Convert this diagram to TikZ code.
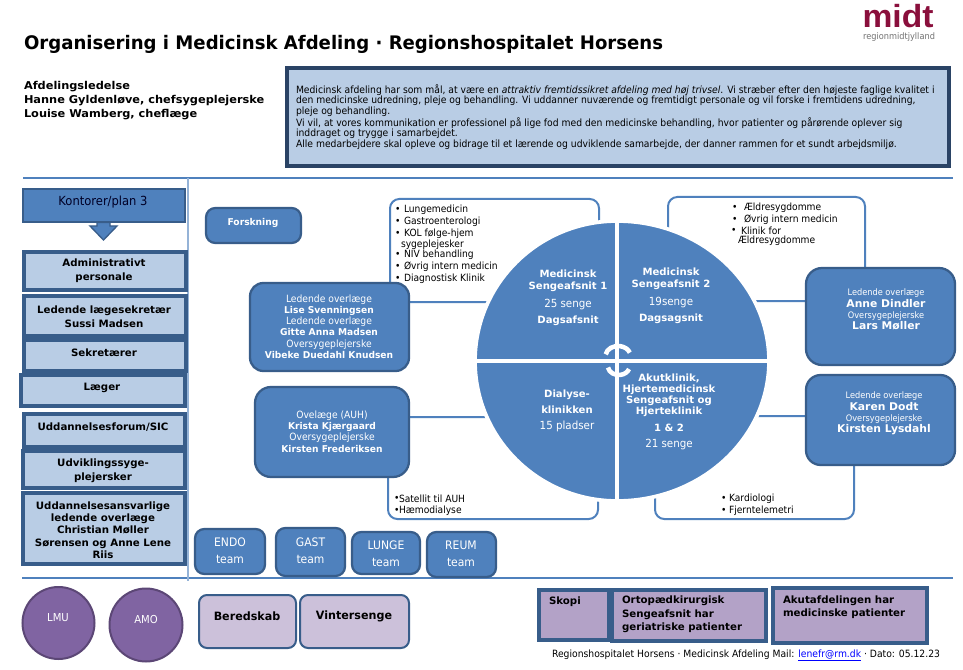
\documentclass[tikz,border=0pt]{standalone}
\usepackage{fontspec}
\setmainfont{DejaVu Sans}
\newfontfamily\rg{DejaVu Sans}[FakeStretch=0.92]
\newfontfamily\bd{DejaVu Sans}[UprightFont={* Bold},FakeStretch=0.97]
\newfontfamily\bdb{DejaVu Sans}[UprightFont={* Bold},FakeStretch=1.01]
\newfontfamily\bdw{DejaVu Sans}[UprightFont={* Bold},FakeStretch=1.05]
\newfontfamily\lgf{Liberation Sans}[UprightFont={* Bold}]
\usetikzlibrary{shapes.arrows,calc}
\definecolor{blu}{HTML}{4F81BD}
\definecolor{blb}{HTML}{385D8A}
\definecolor{lbl}{HTML}{B9CDE5}
\definecolor{navy}{HTML}{2A4365}
\definecolor{pur}{HTML}{8064A2}
\definecolor{purb}{HTML}{5C4776}
\definecolor{lpu}{HTML}{CCC1DA}
\definecolor{mpu}{HTML}{B3A2C7}
\definecolor{logo}{HTML}{8A0F3C}
\tikzset{
  x=0.75pt,y=-0.75pt,
  every node/.style={inner sep=0pt,outer sep=0pt,font=\rg\fontsize{7.6}{8.4}\selectfont,text=black},
  sq/.style={draw=blb,line width=2.6pt,fill=lbl},
  sqp/.style={draw=blb,line width=2.6pt,fill=mpu},
  rnd/.style={draw=blb,line width=1.7pt,fill=blu,rounded corners=7pt},
  rndp/.style={draw=blb,line width=1.5pt,fill=lpu,rounded corners=6pt},
  list/.style={draw=blu,line width=1.5pt,fill=white,rounded corners=7pt},
  quad/.style={fill=blu,draw=white,line width=2.8pt},
  wt/.style={text=white,align=center,font=\rg\fontsize{7.6}{8.4}\selectfont},
  wb/.style={text=white,align=center,font=\bd\fontsize{7.05}{8.4}\selectfont},
  wbl/.style={text=white,align=center,font=\bdb\fontsize{8}{8.4}\selectfont},
  wq/.style={text=white,align=center,font=\bdb\fontsize{7.5}{8.4}\selectfont},
  bt/.style={text=black,align=center,font=\bdb\fontsize{7.6}{8.4}\selectfont},
  bh/.style={anchor=west,text=black,align=left,font=\bdw\fontsize{8.1}{9}\selectfont},
  tm/.style={text=white,align=center,font=\rg\fontsize{8.8}{10}\selectfont},
  li/.style={anchor=west,text=black,font=\rg\fontsize{7.45}{8.4}\selectfont},
  ms/.style={anchor=west,text=black,font=\rg\fontsize{7.52}{8}\selectfont},
  rule/.style={draw=blu,line width=0.8pt},
  circ/.style={circle,draw=purb,line width=1.5pt,fill=pur},
}
% \bx{name}{style}{x1}{y1}{x2}{y2}
\newcommand{\bx}[6]{\node[#2,minimum width={(#5-#3)*0.75pt},minimum height={(#6-#4)*0.75pt}] (#1) at ({(#3+#5)/2},{(#4+#6)/2}) {};}
\newcommand{\pn}{\rg\fontsize{8.4}{8.4}\selectfont}
\newcommand{\sm}{\rg\fontsize{6.7}{8.4}\selectfont}
\newcommand{\rgm}{\rg\fontsize{7.5}{8.4}\selectfont}
\begin{document}
\begin{tikzpicture}
\useasboundingbox (0,0) rectangle (963,670);
\fill[white] (0,0) rectangle (963,670);
% title
\node[anchor=west,font=\bd\fontsize{14}{15}\selectfont] (title) at (24,44) {Organisering i Medicinsk Afdeling · Regionshospitalet Horsens};
% logo
\node[anchor=center,font=\lgf\fontsize{24}{24}\selectfont,text=logo,xscale=1.05] (logomidt) at (898,16) {midt};
\node[anchor=center,font=\rg\fontsize{6.7}{7}\selectfont,text=black!55] (logosub) at (899,37) {regionmidtjylland};
% leaders
\node[bh] (led1) at (24,87) {Afdelingsledelse};
\node[bh] (led2) at (24,101) {Hanne Gyldenløve, chefsygeplejerske};
\node[bh] (led3) at (24,115) {Louise Wamberg, cheflæge};
% mission
\bx{mission}{draw=navy,line width=2.4pt,fill=lbl}{287}{68}{949}{166}
\node[ms] (m1) at (296,90) {Medicinsk afdeling har som mål, at være en \textit{attraktiv fremtidssikret afdeling med høj trivsel}. Vi stræber efter den højeste faglige kvalitet i};
\node[ms] (m2) at (296,100.5) {den medicinske udredning, pleje og behandling. Vi uddanner nuværende og fremtidigt personale og vil forske i fremtidens udredning,};
\node[ms] (m3) at (296,112) {pleje og behandling.};
\node[ms] (m4) at (296,123) {Vi vil, at vores kommunikation er professionel på lige fod med den medicinske behandling, hvor patienter og pårørende oplever sig};
\node[ms] (m5) at (296,133.5) {inddraget og trygge i samarbejdet.};
\node[ms] (m6) at (296,145) {Alle medarbejdere skal opleve og bidrage til et lærende og udviklende samarbejde, der danner rammen for et sundt arbejdsmiljø.};
% rules
\coordinate (r1a) at (23,178); \coordinate (r1b) at (953,178);
\coordinate (r2a) at (22,578); \coordinate (r2b) at (953,578);
\coordinate (r3a) at (188,178); \coordinate (r3b) at (188,581);
\draw[rule] (r1a) -- (r1b);
\draw[rule] (r2a) -- (r2b);
\draw[rule,draw=blu!60] (r3a) -- (r3b);
% left column
\bx{kont}{draw=blb,line width=1.5pt,fill=blu}{23}{189}{185}{222}
\node[font=\rg\fontsize{9.4}{10}\selectfont,text=black!85!blue] (konttxt) at (103,202) {Kontorer/plan 3};
\path[draw=blb,line width=1pt,fill=blu] (97,222.5) -- (110,222.5) -- (110,226) -- (117,226) -- (103.5,240) -- (90,226) -- (97,226) -- cycle;
\bx{b1}{sq}{24}{252}{186}{290}
\node[bt] (b1t) at (104,270.5) {Administrativt\\[1.8pt]personale};
\bx{b2}{sq}{24}{296}{186}{336}
\node[bt] (b2t) at (104,317) {Ledende lægesekretær\\[1.8pt]Sussi Madsen};
\bx{b3}{sq}{24}{340}{186}{371}
\node[bt] (b3t) at (104,353) {Sekretærer};
\bx{b4}{sq}{21}{375}{185}{406}
\node[bt] (b4t) at (102,388) {Læger};
\bx{b5}{sq}{24}{414}{185}{447}
\node[bt] (b5t) at (103,427.5) {Uddannelsesforum/SIC};
\bx{b6}{sq}{23}{451}{185}{488}
\node[bt] (b6t) at (103,470.5) {Udviklingssyge-\\[1.8pt]plejersker};
\bx{b7}{sq}{23}{493}{185}{564}
\node[bt] (b7t) at (103,530) {Uddannelsesansvarlige\\[0.8pt]ledende overlæge\\[0.8pt]Christian Møller\\[0.8pt]Sørensen og Anne Lene\\[0.8pt]Riis};
% lists (behind everything)
\bx{tl}{list}{390}{199}{599}{302}
\bx{tr}{list}{668}{197}{865}{301}
\bx{bl}{list}{388}{417}{598}{519}
\bx{br}{list}{655}{416}{854}{519}
% pie
\coordinate (pc) at (617,361);
\path[quad] (pc) -- (617,221) arc[start angle=90,end angle=180,x radius=106.5pt,y radius=105pt] -- cycle;
\path[quad] (pc) -- (617,221) arc[start angle=90,end angle=0,x radius=114pt,y radius=105pt] -- cycle;
\path[quad] (pc) -- (475,361) arc[start angle=180,end angle=270,x radius=106.5pt,y radius=105pt] -- cycle;
\path[quad] (pc) -- (769,361) arc[start angle=0,end angle=-90,x radius=114pt,y radius=105pt] -- cycle;
% central arrows
\draw[white,line width=3.4pt] (605.7,354.3) arc[start angle=170,end angle=20,x radius=9.4pt,y radius=7.5pt];
\draw[white,line width=3.4pt] (608,367.5) arc[start angle=190,end angle=340,x radius=8.2pt,y radius=6.8pt];
\node[wq] (q1) at (568,298) {Medicinsk\\[0.6pt]Sengeafsnit 1\\[5pt]{\pn 25 senge}\\[4pt]Dagsafsnit};
\node[wq] (q2) at (671,296) {Medicinsk\\[0.6pt]Sengeafsnit 2\\[5pt]{\pn 19senge}\\[4pt]Dagsagsnit};
\node[wq] (q3) at (567,411) {Dialyse-\\[3.2pt]klinikken\\[4pt]{\pn 15 pladser}};
\node[wq] (q4) at (669,412) {Akutklinik,\\Hjertemedicinsk\\Sengeafsnit og\\Hjerteklinik\\[4pt]1 \& 2\\[4pt]{\pn 21 senge}};
% list texts
\foreach \n/\y/\t in {a/210/Lungemedicin,b/222/Gastroenterologi,c/234/KOL følge-hjem,d/255/NIV behandling,e/267/Øvrig intern medicin,f/279/Diagnostisk Klinik}{
  \node[li] (tl\n) at (404,\y) {\t};
  \node[li] (tlb\n) at (395,\y) {•};
}
\node[li] (tlg) at (401,244.5) {sygeplejesker};
\foreach \n/\y/\t in {a/208/Ældresygdomme,b/220/Øvrig intern medicin}{
  \node[li] (tr\n) at (744,\y) {\t};
  \node[li] (trb\n) at (732,\y) {•};
}
\node[li] (trb) at (731,231) {•};
\node[li] (trc) at (741,231) {Klinik for};
\node[li] (trd) at (738,241) {Ældresygdomme};
\node[li] (bla) at (394,499) {•};
\node[li] (blb) at (399,499) {Satellit til AUH};
\node[li] (blc) at (394,511) {•};
\node[li] (bld) at (399,511) {Hæmodialyse};
\node[li] (bra) at (721,499) {•};
\node[li] (brb) at (729,499) {Kardiologi};
\node[li] (brc) at (721,511) {•};
\node[li] (brd) at (729,511) {Fjerntelemetri};
% leader boxes
\bx{fors}{rnd}{206}{208}{301}{243}
\node[wb] (forst) at (253,222.5) {Forskning};
\bx{lise}{rnd,rounded corners=10pt}{250}{283}{409}{371}
\node[wb] (liset) at (329,326.5) {{\rgm Ledende overlæge}\\Lise Svenningsen\\{\rgm Ledende overlæge}\\Gitte Anna Madsen\\{\rgm Oversygeplejerske}\\Vibeke Duedahl Knudsen};
\bx{kris}{rnd,rounded corners=12pt}{255}{387}{409}{477}
\node[wb] (krist) at (332,431.5) {{\rgm Ovelæge (AUH)}\\Krista Kjærgaard\\{\rgm Oversygeplejerske}\\Kirsten Frederiksen};
\bx{anne}{rnd,rounded corners=12pt}{806}{268}{955}{365}
\node[wbl] (annet) at (886,309.5) {{\sm Ledende overlæge}\\Anne Dindler\\{\sm Oversygeplejerske}\\Lars Møller};
\bx{kare}{rnd,rounded corners=11pt}{806}{375}{955}{465}
\node[wbl] (karet) at (884,413.5) {{\sm Ledende overlæge}\\Karen Dodt\\{\sm Oversygeplejerske}\\Kirsten Lysdahl};
% teams
\bx{endo}{rnd}{195}{529}{265}{574}
\node[tm] (endot) at (230,551) {ENDO\\[2.8pt]team};
\bx{gast}{rnd}{276}{528}{345}{576}
\node[tm] (gastt) at (310.5,551) {GAST\\[2.8pt]team};
\bx{lung}{rnd}{352}{532}{420}{574}
\node[tm] (lungt) at (386,554) {LUNGE\\[2.8pt]team};
\bx{reum}{rnd}{427}{532}{496}{577}
\node[tm] (reumt) at (461,554) {REUM\\[2.8pt]team};
% bottom row
\node[circ,minimum size={72*0.75pt}] (lmu) at (58.5,623) {};
\node[wt,font=\rg\fontsize{8.2}{10}\selectfont] (lmut) at (58,618) {LMU};
\node[circ,minimum size={73*0.75pt}] (amo) at (146,625) {};
\node[wt,font=\rg\fontsize{8.2}{10}\selectfont] (amot) at (146,620) {AMO};
\bx{bere}{rndp}{199}{595}{296}{648}
\node[bt,font=\bd\fontsize{8.6}{10}\selectfont] (beret) at (247,616) {Beredskab};
\bx{vint}{rndp}{300}{595}{409}{648}
\node[bt,font=\bd\fontsize{8.6}{10}\selectfont] (vintt) at (354,616) {Vintersenge};
\bx{skop}{sqp}{539}{590}{609}{640}
\node[bt,anchor=west] (skopt) at (549,602) {Skopi};
\bx{orto}{sqp}{612}{590}{766}{641}
\node[bt,anchor=west,align=left] (ortot) at (622,614.5) {Ortopædkirurgisk\\[1.6pt]Sengeafsnit har\\[1.6pt]geriatriske patienter};
\bx{akut}{sqp}{773}{588}{927}{643}
\node[bt,anchor=west,align=left] (akutt) at (783,607) {Akutafdelingen har\\[1.6pt]medicinske patienter};
% footer
\node[anchor=west,font=\rg\fontsize{7.52}{8}\selectfont] (foot) at (552,655.5) {Regionshospitalet Horsens · Medicinsk Afdeling Mail: \textcolor{blue}{\underline{lenefr@rm.dk}} · Dato: 05.12.23};
\end{tikzpicture}
\end{document}
